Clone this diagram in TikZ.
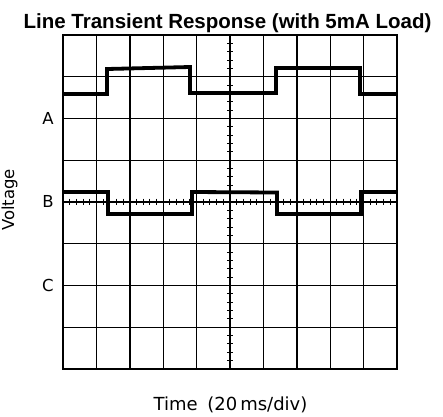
\documentclass[tikz,border=0pt]{standalone}
\usepackage{fontspec}
\setmainfont{DejaVu Sans}
\newfontfamily\titlefont{Liberation Sans}

\begin{document}
\begin{tikzpicture}[x=1pt,y=-1pt,
    gridline/.style={line width=1.4pt},
    frameline/.style={line width=2pt},
    tickmark/.style={line width=1pt},
    trace/.style={line width=3.8pt, line join=miter},
    axislabel/.style={font=\fontsize{16.5}{18}\selectfont}]
    \useasboundingbox (0,0) rectangle (443,416);
    % graticule
    \foreach \i in {1,...,9} \draw[gridline] ({63+33.4*\i},35) -- ({63+33.4*\i},369);
    \foreach \j in {1,...,7} \draw[gridline] (63,{35+41.75*\j}) -- (397,{35+41.75*\j});
    \draw[frameline] (63,35) rectangle (397,369);
    % minor ticks on the centre axes
    \foreach \k in {1,...,39} \draw[tickmark] (227,{35+8.35*\k}) -- (233,{35+8.35*\k});
    \foreach \k in {1,...,49} \draw[tickmark] ({63+6.68*\k},198.5) -- ({63+6.68*\k},204.5);
    % traces
    \draw[trace] (63,94) -- (107,94) -- (107,69) -- (190,67) -- (190,93) -- (276,93)
        -- (276,68) -- (360,68) -- (360,94) -- (397,94);
    \draw[trace] (63,192) -- (108,192) -- (108,214) -- (192,214) -- (192,192) -- (277,192.5)
        -- (277,214) -- (361,214) -- (361,192) -- (397,192);
    % labels
    \node[font=\titlefont\bfseries\fontsize{20.5}{24}\selectfont, anchor=base] (title) at (227.5,28) {Line Transient Response (with 5mA Load)};
    \node[axislabel] (labA) at (48,118) {A};
    \node[axislabel] (labB) at (48,201.5) {B};
    \node[axislabel] (labC) at (48,285) {C};
    \node[axislabel, rotate=90, anchor=base] (ylabel) at (14,200) {Voltage};
    \node[font=\fontsize{18}{20}\selectfont, anchor=base] (xlabel) at (230.5,410) {Time\hspace{4pt} (20\,ms/div)};
\end{tikzpicture}
\end{document}
